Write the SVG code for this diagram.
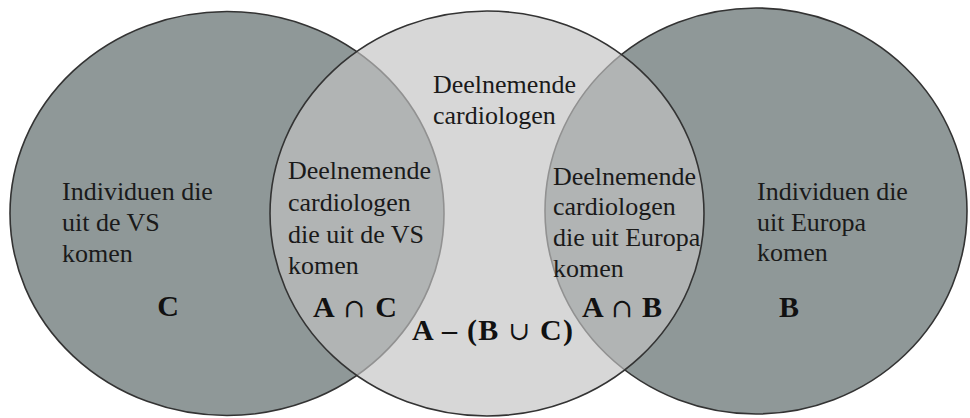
<svg xmlns="http://www.w3.org/2000/svg" width="970" height="418" viewBox="0 0 970 418">
<style>
.outer{fill:#8f9898;stroke:#333;stroke-width:1.6}
.center{fill:#c3c3c3;fill-opacity:0.66;stroke:#333;stroke-width:1.6}
.t{font-family:"Liberation Serif","Times New Roman",serif;font-size:26px;fill:#1a1a1a}
.b{font-family:"Liberation Serif","Times New Roman",serif;font-size:30px;font-weight:bold;fill:#111}
.sym{font-family:"DejaVu Serif","Liberation Serif",serif;font-weight:normal;font-size:26px}
</style>
<rect width="970" height="418" fill="#fff"/>
<g id="set-C"><ellipse class="outer" cx="227" cy="213.5" rx="217" ry="202"/></g>
<g id="set-B"><ellipse class="outer" cx="756" cy="211" rx="211" ry="203"/></g>
<g id="set-A"><ellipse class="center" cx="487" cy="213.5" rx="217" ry="202.5"/></g>
<g id="label-C">
<text class="t" x="62" y="200">Individuen die</text>
<text class="t" x="62" y="231">uit de VS</text>
<text class="t" x="62" y="262">komen</text>
<text class="b" x="168" y="316" text-anchor="middle">C</text>
</g>
<g id="label-AC">
<text class="t" x="288" y="179">Deelnemende</text>
<text class="t" x="288" y="211">cardiologen</text>
<text class="t" x="288" y="243">die uit de VS</text>
<text class="t" x="288" y="274">komen</text>
<text class="b" x="313" y="317" textLength="84" lengthAdjust="spacing">A <tspan class="sym">∩</tspan> C</text>
</g>
<g id="label-A">
<text class="t" x="433" y="93">Deelnemende</text>
<text class="t" x="433" y="124">cardiologen</text>
<text class="b" x="412" y="340" textLength="161" lengthAdjust="spacing">A – (B <tspan class="sym">∪</tspan> C)</text>
</g>
<g id="label-AB">
<text class="t" x="553" y="185">Deelnemende</text>
<text class="t" x="553" y="215">cardiologen</text>
<text class="t" x="553" y="246">die uit Europa</text>
<text class="t" x="553" y="277">komen</text>
<text class="b" x="582" y="317" textLength="80" lengthAdjust="spacing">A <tspan class="sym">∩</tspan> B</text>
</g>
<g id="label-B">
<text class="t" x="757" y="200">Individuen die</text>
<text class="t" x="757" y="231">uit Europa</text>
<text class="t" x="757" y="261">komen</text>
<text class="b" x="789" y="317" text-anchor="middle">B</text>
</g>
</svg>
